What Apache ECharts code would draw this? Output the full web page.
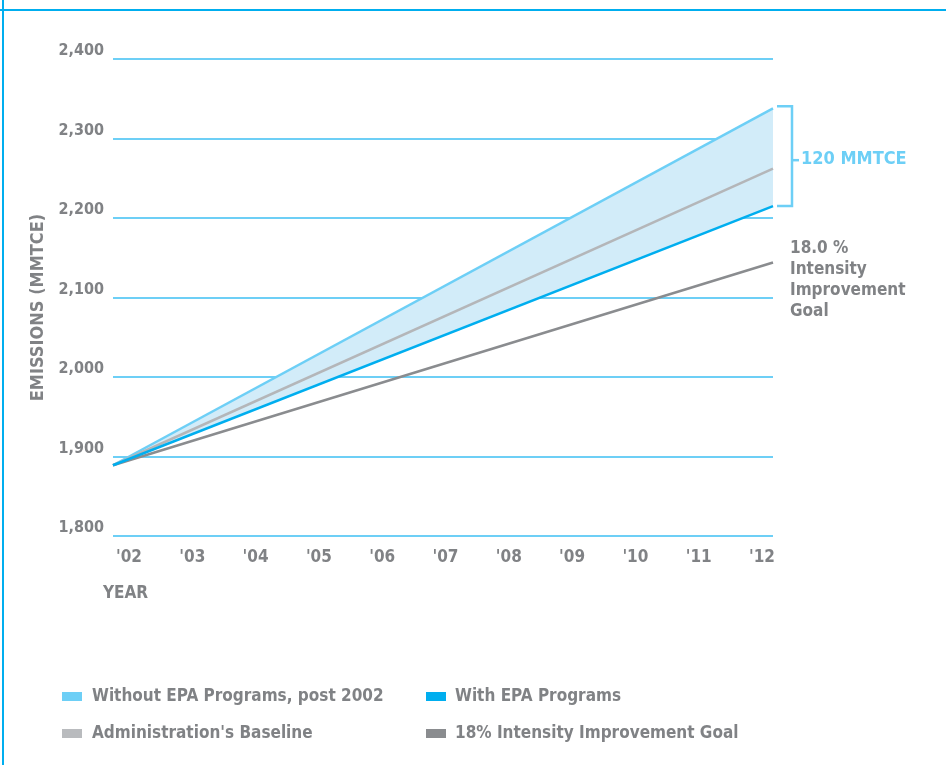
<!DOCTYPE html>
<html>
<head>
<meta charset="utf-8">
<script src="https://cdn.jsdelivr.net/npm/echarts@6/dist/echarts.min.js"></script>
<style>
  html, body { margin: 0; padding: 0; background: #fff; }
  #main { width: 946px; height: 765px; }
</style>
</head>
<body>
<div id="main"></div>
<script>
// values (MMTCE)
const years = ['2002', '2012']
const yearLabels = ["'02", "'03", "'04", "'05", "'06", "'07", "'08", "'09", "'10", "'11", "'12"]
const withoutEpa = [1889, 2338]
const baseline = [1889, 2262]
const withEpa = [1889, 2215]
const goal = [1889, 2144]

const FONT = "'Liberation Sans Narrow', 'DejaVu Sans Condensed', sans-serif"
const GRAY = '#808285'
const CYAN = '#6dcff6'
const BLUE = '#00aeef'

// gap between the two bounding lines, stacked on top of the EPA line
const band = withoutEpa.map((v, i) => v - withEpa[i])

const myChart = echarts.init(document.getElementById('main'))

const option = {
  animation: false,
  textStyle: { fontFamily: FONT },
  grid: [
    { left: 113, right: 173, top: 59, bottom: 229 },
    { left: 129, right: 184, top: 59, bottom: 229 }
  ],
  xAxis: [
    { type: 'category', gridIndex: 0, data: years, boundaryGap: false, show: false },
    {
      type: 'category', gridIndex: 1, data: yearLabels, boundaryGap: false,
      axisLine: { show: false }, axisTick: { show: false },
      axisLabel: { margin: 13, color: GRAY, fontSize: 17, fontWeight: 'bold', fontFamily: FONT }
    }
  ],
  yAxis: [
    {
      type: 'value', gridIndex: 0, min: 1800, max: 2400, interval: 100,
      name: 'EMISSIONS (MMTCE)', nameLocation: 'middle', nameRotate: 90, nameGap: 56,
      nameTextStyle: { color: GRAY, fontSize: 18, fontWeight: 'bold', fontFamily: FONT, padding: [0, 20, 0, 0] },
      axisLine: { show: false }, axisTick: { show: false },
      axisLabel: {
        margin: 9, color: GRAY, fontSize: 16, fontWeight: 'bold', fontFamily: FONT,
        verticalAlign: 'bottom',
        formatter: v => v.toLocaleString('en-US')
      },
      splitLine: { lineStyle: { color: CYAN, width: 2 } }
    },
    { type: 'value', gridIndex: 1, show: false, splitLine: { show: false } }
  ],
  legend: [
    {
      left: 62, top: 688, padding: 0, orient: 'vertical', itemGap: 20,
      itemWidth: 20, itemHeight: 9, icon: 'rect',
      textStyle: { color: GRAY, fontSize: 17, fontWeight: 'bold', fontFamily: FONT, padding: [0, 0, 0, 5] },
      data: ['Without EPA Programs, post 2002', "Administration's Baseline"]
    },
    {
      left: 426, top: 688, padding: 0, orient: 'vertical', itemGap: 20,
      itemWidth: 20, itemHeight: 9, icon: 'rect',
      textStyle: { color: GRAY, fontSize: 17, fontWeight: 'bold', fontFamily: FONT, padding: [0, 0, 0, 4] },
      data: ['With EPA Programs', '18% Intensity Improvement Goal']
    }
  ],
  series: [
    {
      name: 'With EPA Programs', type: 'line', stack: 'band', data: withEpa,
      symbol: 'none', z: 4,
      itemStyle: { color: BLUE },
      lineStyle: { color: BLUE, width: 2.5 }
    },
    {
      name: 'Without EPA Programs, post 2002', type: 'line', stack: 'band', data: band,
      symbol: 'none', z: 2,
      itemStyle: { color: CYAN },
      lineStyle: { color: CYAN, width: 2.5 },
      areaStyle: { color: '#d2ecf9', opacity: 1 }
    },
    {
      name: "Administration's Baseline", type: 'line', data: baseline,
      symbol: 'none', z: 3,
      itemStyle: { color: '#b9bbbe' },
      lineStyle: { color: '#b4b6b9', width: 2.5 }
    },
    {
      name: '18% Intensity Improvement Goal', type: 'line', data: goal,
      symbol: 'none', z: 3,
      itemStyle: { color: '#8a8c8f' },
      lineStyle: { color: '#8a8c8f', width: 2.5 }
    }
  ]
}
myChart.setOption(option)

// annotations placed from the data ends
const last = years.length - 1
const px = (i, y) => myChart.convertToPixel({ xAxisIndex: 0, yAxisIndex: 0 }, [i, y])
const topEnd = px(last, withoutEpa[last])
const epaEnd = px(last, withEpa[last])
const goalEnd = px(last, goal[last])
const bx = topEnd[0] + 19
const midY = (topEnd[1] + epaEnd[1]) / 2 + 3

myChart.setOption({
  graphic: [
    { type: 'line', shape: { x1: 0, y1: 10, x2: 946, y2: 10 }, style: { stroke: BLUE, lineWidth: 2 } },
    { type: 'line', shape: { x1: 3, y1: 0, x2: 3, y2: 765 }, style: { stroke: BLUE, lineWidth: 2 } },
    {
      type: 'polyline',
      shape: { points: [[bx - 15, topEnd[1] - 2], [bx, topEnd[1] - 2], [bx, epaEnd[1]], [bx - 15, epaEnd[1]]] },
      style: { stroke: CYAN, lineWidth: 2.5, fill: null }
    },
    { type: 'line', shape: { x1: bx, y1: midY, x2: bx + 7, y2: midY }, style: { stroke: CYAN, lineWidth: 2.5 } },
    {
      type: 'text', left: bx + 9, top: midY - 10,
      style: { text: Math.round((withoutEpa[last] - withEpa[last]) / 10) * 10 - 0 + ' MMTCE', fill: CYAN, font: 'bold 18px ' + FONT }
    },
    {
      type: 'text', left: goalEnd[0] + 17, top: goalEnd[1] - 24,
      style: { text: '18.0 %\nIntensity\nImprovement\nGoal', fill: GRAY, font: 'bold 17px ' + FONT, lineHeight: 21 }
    },
    {
      type: 'text', left: 103, top: 585,
      style: { text: 'YEAR', fill: GRAY, font: 'bold 17px ' + FONT }
    }
  ]
})
</script>
</body>
</html>
